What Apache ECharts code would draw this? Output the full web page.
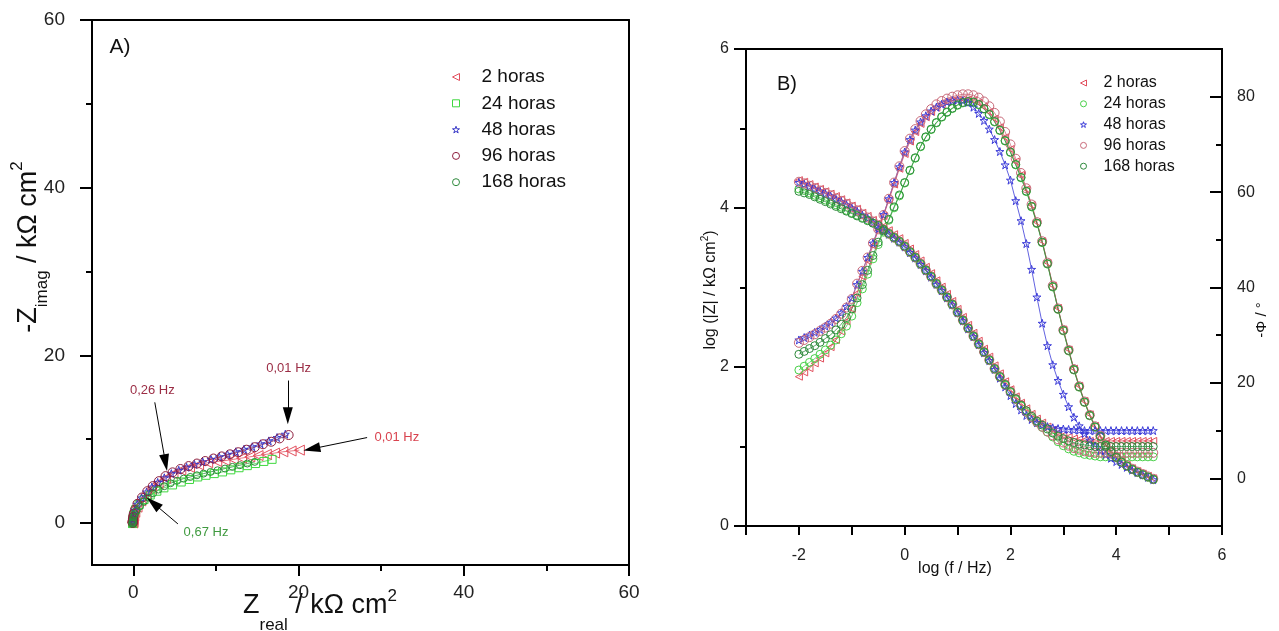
<!DOCTYPE html>
<html>
<head>
<meta charset="utf-8" />
<script src="https://cdn.jsdelivr.net/npm/echarts@6.0.0/dist/echarts.min.js"></script>
<style>
  html, body { margin: 0; padding: 0; background: #fff; }
  #chart { width: 1279px; height: 631px; }
</style>
</head>
<body>
<div id="chart"></div>
<script>
// series names
var names = ['2 horas', '24 horas', '48 horas', '96 horas', '168 horas'];

// ---- panel A : Nyquist (kOhm cm2) ----
var re2h = [20.1, 19.1, 18.1, 17.1, 16.1, 15.1, 14.1, 13.1, 12.1, 11.1, 10.1, 9.0, 7.9, 6.8, 5.75, 4.8, 3.9, 3.0, 2.2, 1.5, 0.9, 0.45, 0.18, 0.05, -0.02, -0.05, -0.06, -0.07, -0.07, -0.07];
var im2h = [8.7, 8.6, 8.5, 8.35, 8.2, 8.05, 7.9, 7.75, 7.6, 7.45, 7.35, 7.2, 6.95, 6.65, 6.3, 5.85, 5.35, 4.75, 4.1, 3.4, 2.65, 1.9, 1.3, 0.85, 0.55, 0.35, 0.2, 0.12, 0.06, 0.02];
var re24h = [16.8, 15.8, 14.8, 13.8, 12.8, 11.8, 10.8, 9.8, 8.8, 7.8, 6.8, 5.8, 4.75, 3.7, 2.85, 2.05, 1.3, 0.7, 0.28, 0.05, -0.05, -0.08, -0.09, -0.09, -0.09, -0.09];
var im24h = [7.6, 7.35, 7.1, 6.85, 6.6, 6.35, 6.1, 5.9, 5.7, 5.5, 5.2, 4.9, 4.55, 4.2, 3.8, 3.35, 2.8, 2.2, 1.6, 1.0, 0.55, 0.25, 0.1, 0.02, -0.03, -0.06];
var re48h = [18.4, 17.4, 16.4, 15.4, 14.4, 13.4, 12.4, 11.4, 10.4, 9.4, 8.4, 7.4, 6.45, 5.5, 4.6, 3.75, 2.95, 2.25, 1.6, 1.0, 0.48, 0.18, 0.04, -0.03, -0.05, -0.06, -0.07, -0.07, -0.07, -0.07];
var im48h = [10.6, 10.2, 9.8, 9.45, 9.1, 8.8, 8.5, 8.2, 7.9, 7.6, 7.3, 7.0, 6.65, 6.3, 5.9, 5.4, 4.85, 4.3, 3.7, 3.0, 2.25, 1.55, 1.05, 0.7, 0.46, 0.3, 0.18, 0.1, 0.05, 0.02];
var re96h = [18.8, 17.7, 16.7, 15.7, 14.7, 13.7, 12.7, 11.7, 10.7, 9.7, 8.7, 7.7, 6.7, 5.7, 4.75, 3.9, 3.1, 2.35, 1.7, 1.05, 0.5, 0.2, 0.05, -0.02, -0.05, -0.06, -0.07, -0.07, -0.07, -0.07];
var im96h = [10.5, 10.1, 9.7, 9.4, 9.05, 8.75, 8.45, 8.2, 7.95, 7.7, 7.4, 7.1, 6.8, 6.45, 6.05, 5.6, 5.0, 4.4, 3.8, 3.05, 2.3, 1.6, 1.1, 0.75, 0.5, 0.32, 0.2, 0.12, 0.06, 0.02];
var re168h = [14.7, 13.8, 12.9, 12.0, 11.1, 10.2, 9.35, 8.5, 7.7, 6.9, 6.1, 5.3, 4.5, 3.75, 3.05, 2.4, 1.8, 1.25, 0.8, 0.42, 0.15, 0.0, -0.06, -0.08, -0.09, -0.09, -0.09, -0.09];
var im168h = [7.3, 7.1, 6.9, 6.7, 6.5, 6.3, 6.1, 5.9, 5.7, 5.5, 5.3, 5.05, 4.75, 4.4, 4.0, 3.55, 3.05, 2.55, 2.0, 1.5, 1.05, 0.65, 0.35, 0.17, 0.06, 0.0, -0.03, -0.05];

// frequency annotations of panel A
var annText = ['0,26 Hz', '0,01 Hz', '0,01 Hz', '0,67 Hz'];
var annTextAt = [[2.3, 15.8], [18.8, 18.5], [31.9, 10.2], [8.8, -1.1]];
var annFrom = [[2.6, 14.4], [18.7, 17.0], [28.3, 10.2], [5.4, -0.1]];
var annTo = [[3.9, 7.2], [18.7, 12.8], [21.6, 8.85], [2.4, 2.4]];
var annColor = ['#9b2d45', '#9b2d45', '#d9434f', '#3f9a3f'];

// ---- panel B : Bode ----
var logF = [-2.0, -1.9, -1.8, -1.7, -1.6, -1.5, -1.4, -1.3, -1.2, -1.1,
  -1.0, -0.9, -0.8, -0.7, -0.6, -0.5, -0.4, -0.3, -0.2, -0.1,
  0.0, 0.1, 0.2, 0.3, 0.4, 0.5, 0.6, 0.7, 0.8, 0.9,
  1.0, 1.1, 1.2, 1.3, 1.4, 1.5, 1.6, 1.7, 1.8, 1.9,
  2.0, 2.1, 2.2, 2.3, 2.4, 2.5, 2.6, 2.7, 2.8, 2.9,
  3.0, 3.1, 3.2, 3.3, 3.4, 3.5, 3.6, 3.7, 3.8, 3.9,
  4.0, 4.1, 4.2, 4.3, 4.4, 4.5, 4.6, 4.7];

var modZ2h = [4.35, 4.33, 4.30, 4.27, 4.24, 4.21, 4.18, 4.15, 4.11, 4.07,
  4.03, 3.99, 3.94, 3.90, 3.85, 3.81, 3.77, 3.72, 3.67, 3.62,
  3.56, 3.49, 3.42, 3.34, 3.26, 3.18, 3.09, 3.01, 2.92, 2.83,
  2.73, 2.63, 2.53, 2.43, 2.33, 2.23, 2.13, 2.02, 1.92, 1.82,
  1.72, 1.63, 1.55, 1.48, 1.41, 1.35, 1.30, 1.25, 1.21, 1.17,
  1.14, 1.12, 1.10, 1.09, 1.08, 1.07, 1.07, 1.07, 1.07, 1.07,
  1.07, 1.07, 1.07, 1.07, 1.07, 1.07, 1.07, 1.07];
var modZ24h = [4.24, 4.22, 4.19, 4.16, 4.13, 4.10, 4.07, 4.04, 4.01, 3.97,
  3.94, 3.91, 3.88, 3.85, 3.81, 3.78, 3.73, 3.67, 3.62, 3.57,
  3.51, 3.44, 3.37, 3.29, 3.21, 3.13, 3.04, 2.96, 2.87, 2.78,
  2.68, 2.58, 2.48, 2.38, 2.28, 2.18, 2.08, 1.97, 1.87, 1.77,
  1.68, 1.59, 1.51, 1.43, 1.36, 1.30, 1.24, 1.18, 1.12, 1.06,
  1.01, 0.97, 0.94, 0.92, 0.90, 0.89, 0.88, 0.87, 0.87, 0.87,
  0.87, 0.87, 0.87, 0.87, 0.87, 0.87, 0.87, 0.87];
var modZ48h = [4.32, 4.30, 4.27, 4.24, 4.21, 4.18, 4.15, 4.11, 4.08, 4.04,
  4.00, 3.96, 3.91, 3.87, 3.82, 3.77, 3.72, 3.67, 3.62, 3.57,
  3.51, 3.44, 3.37, 3.29, 3.21, 3.13, 3.04, 2.96, 2.87, 2.78,
  2.68, 2.58, 2.48, 2.38, 2.28, 2.18, 2.08, 1.97, 1.86, 1.75,
  1.64, 1.54, 1.46, 1.39, 1.34, 1.30, 1.27, 1.25, 1.235, 1.225,
  1.22, 1.215, 1.21, 1.205, 1.20, 1.20, 1.20, 1.20, 1.20, 1.20,
  1.20, 1.20, 1.20, 1.20, 1.20, 1.20, 1.20, 1.20];
var modZ96h = [4.33, 4.31, 4.28, 4.25, 4.22, 4.19, 4.16, 4.12, 4.09, 4.05,
  4.01, 3.97, 3.92, 3.88, 3.83, 3.78, 3.73, 3.68, 3.63, 3.58,
  3.52, 3.45, 3.38, 3.30, 3.22, 3.14, 3.05, 2.97, 2.88, 2.79,
  2.69, 2.59, 2.49, 2.39, 2.29, 2.19, 2.09, 1.98, 1.88, 1.78,
  1.69, 1.60, 1.52, 1.44, 1.37, 1.31, 1.25, 1.19, 1.14, 1.09,
  1.05, 1.01, 0.98, 0.96, 0.94, 0.93, 0.92, 0.92, 0.92, 0.92,
  0.92, 0.92, 0.92, 0.92, 0.92, 0.92, 0.92, 0.92];
var modZ168h = [4.21, 4.19, 4.17, 4.14, 4.11, 4.08, 4.05, 4.02, 3.99, 3.96,
  3.93, 3.90, 3.87, 3.84, 3.81, 3.78, 3.73, 3.68, 3.63, 3.58,
  3.52, 3.45, 3.38, 3.30, 3.22, 3.14, 3.05, 2.97, 2.88, 2.79,
  2.69, 2.59, 2.49, 2.39, 2.29, 2.19, 2.09, 1.98, 1.88, 1.78,
  1.69, 1.60, 1.52, 1.45, 1.38, 1.32, 1.27, 1.22, 1.17, 1.13,
  1.10, 1.07, 1.05, 1.03, 1.02, 1.01, 1.00, 1.00, 1.00, 1.00,
  1.00, 1.00, 1.00, 1.00, 1.00, 1.00, 1.00, 1.00];

var phase2h = [21.3, 22.2, 23.1, 24.1, 25.1, 26.2, 27.5, 29.0, 30.8, 32.9,
  35.5, 38.8, 42.3, 45.6, 48.8, 52.0, 55.0, 58.3, 61.6, 64.9,
  68.0, 70.6, 72.6, 74.3, 75.7, 76.8, 77.7, 78.4, 78.9, 79.2,
  79.4, 79.5, 79.4, 79.2, 78.7, 77.9, 76.8, 75.4, 73.6, 71.5,
  69.0, 66.4, 63.6, 60.6, 57.3, 53.7, 49.7, 45.2, 40.4, 35.7,
  31.2, 27.0, 23.0, 19.4, 16.2, 13.4, 11.0, 9.0, 7.2, 5.8,
  4.6, 3.6, 2.8, 2.1, 1.5, 1.0, 0.5, 0.0];
var phase24h = [22.7, 23.5, 24.3, 25.1, 26.0, 26.9, 27.9, 29.0, 30.3, 31.9,
  34.0, 36.8, 39.7, 42.8, 46.0, 49.0, 51.6, 54.1, 56.7, 59.2,
  61.9, 64.5, 67.1, 69.5, 71.5, 73.1, 74.5, 75.7, 76.7, 77.5,
  78.2, 78.7, 78.9, 78.8, 78.3, 77.4, 76.2, 74.7, 72.9, 70.7,
  68.3, 65.7, 63.0, 60.1, 56.9, 53.4, 49.4, 44.9, 40.1, 35.4,
  30.9, 26.7, 22.7, 19.1, 15.9, 13.1, 10.7, 8.7, 6.9, 5.5,
  4.3, 3.3, 2.5, 1.8, 1.2, 0.7, 0.2, -0.3];
var phase48h = [29.0, 29.5, 30.0, 30.6, 31.2, 31.9, 32.7, 33.6, 34.7, 36.0,
  37.8, 40.6, 43.4, 46.3, 49.3, 52.3, 55.3, 58.6, 62.0, 65.3,
  68.4, 71.0, 73.0, 74.7, 76.0, 77.0, 77.8, 78.4, 78.9, 79.2,
  79.3, 79.2, 78.8, 77.8, 76.5, 75.0, 73.2, 71.0, 68.5, 65.7,
  62.5, 58.2, 54.0, 49.2, 43.8, 38.0, 32.5, 27.8, 23.8, 20.5,
  17.6, 15.0, 12.8, 11.0, 9.4, 8.0, 6.8, 5.8, 5.0, 4.2,
  3.5, 2.9, 2.3, 1.7, 1.2, 0.7, 0.2, -0.3];
var phase96h = [28.4, 29.0, 29.6, 30.2, 30.9, 31.6, 32.4, 33.4, 34.5, 35.8,
  37.6, 40.8, 43.5, 46.3, 49.3, 52.2, 55.2, 58.6, 62.0, 65.4,
  68.6, 71.2, 73.2, 74.9, 76.3, 77.4, 78.4, 79.1, 79.6, 80.0,
  80.3, 80.5, 80.5, 80.3, 79.8, 79.0, 78.0, 76.6, 74.8, 72.6,
  70.0, 67.0, 64.0, 60.8, 57.4, 53.7, 49.7, 45.2, 40.4, 35.6,
  31.1, 26.9, 22.9, 19.3, 16.1, 13.3, 10.9, 8.9, 7.1, 5.7,
  4.5, 3.5, 2.7, 2.0, 1.4, 0.9, 0.4, -0.1];
var phase168h = [26.0, 26.6, 27.2, 27.8, 28.5, 29.3, 30.1, 31.1, 32.3, 33.7,
  35.5, 37.8, 40.6, 43.6, 46.7, 49.5, 51.9, 54.3, 56.9, 59.4,
  62.0, 64.6, 67.2, 69.6, 71.6, 73.2, 74.6, 75.8, 76.8, 77.6,
  78.3, 78.8, 79.0, 78.9, 78.4, 77.5, 76.3, 74.8, 73.0, 70.8,
  68.4, 65.8, 63.1, 60.2, 57.0, 53.5, 49.5, 45.0, 40.2, 35.5,
  31.0, 26.8, 22.8, 19.2, 16.0, 13.2, 10.8, 8.8, 7.0, 5.6,
  4.4, 3.4, 2.6, 1.9, 1.3, 0.8, 0.3, -0.2];

// tick labels
var ticksA = [0, 20, 40, 60];
var minorA = [10, 30, 50];
var ticksBx = [-3, -2, -1, 0, 1, 2, 3, 4, 5, 6];
var labelsBx = [-2, 0, 2, 4, 6];
var ticksBz = [0, 2, 4, 6];
var minorBz = [1, 3, 5];
var ticksBp = [0, 20, 40, 60, 80];
var minorBp = [10, 30, 50, 70];

var FONT = 'Liberation Sans, Arial, sans-serif';
var triLeft = 'path://M0,5L10,0L10,10Z';
var star = 'path://M5,0L6.18,3.62L10,3.62L6.91,5.86L8.09,9.5L5,7.26L1.91,9.5L3.09,5.86L0,3.62L3.82,3.62Z';

var colA = ['#e2505e', '#3fd83f', '#3838c8', '#8e1e3e', '#2e8a3c'];
var colB = ['#e2505e', '#48d048', '#3a3ad8', '#c86878', '#2e8a3c'];
var symA = [triLeft, 'rect', star, 'circle', 'circle'];
var sizeA = [10, 8, 8, 9, 7];
var symB = [triLeft, 'circle', star, 'circle', 'circle'];
var sizeB = [7, 8, 8, 9, 8];

var nyqRe = [re2h, re24h, re48h, re96h, re168h];
var nyqIm = [im2h, im24h, im48h, im96h, im168h];
var modZ = [modZ2h, modZ24h, modZ48h, modZ96h, modZ168h];
var phase = [phase2h, phase24h, phase48h, phase96h, phase168h];

function mkSeries(name, data, sym, size, color, xi, yi) {
  return {
    name: name, type: 'line', xAxisIndex: xi, yAxisIndex: yi, data: data,
    symbol: sym, symbolSize: size, showSymbol: true, showAllSymbol: true,
    itemStyle: { color: 'rgba(255,255,255,0)', borderColor: color, borderWidth: 1 },
    lineStyle: { color: color, width: 0.8 },
    emphasis: { disabled: true }, silent: true, animation: false
  };
}

function lineAxis(grid, pos, min, max) {
  return {
    type: 'value', gridIndex: grid, position: pos, min: min, max: max,
    axisLine: { show: true, onZero: false, lineStyle: { color: '#000', width: 2 } },
    axisTick: { show: false }, axisLabel: { show: false }, splitLine: { show: false }
  };
}

function tickAxis(grid, pos, min, max, ticks, len, inside, labels, margin, fs) {
  return {
    type: 'value', gridIndex: grid, position: pos, min: min, max: max,
    axisLine: { show: true, onZero: false, lineStyle: { color: '#000', width: 2 } },
    axisTick: { show: true, inside: inside, length: len, customValues: ticks, lineStyle: { color: '#000', width: 2 } },
    axisLabel: labels ? { show: true, customValues: labels, margin: margin, fontSize: fs, fontFamily: FONT, color: '#222' } : { show: false },
    splitLine: { show: false }
  };
}

var series = [];
for (var i = 0; i < names.length; i++) {
  var pts = nyqRe[i].map(function (x, k) { return [x, nyqIm[i][k]]; });
  series.push(mkSeries(names[i], pts, symA[i], sizeA[i], colA[i], 0, 0));
}
for (var i = 0; i < names.length; i++) {
  var zp = logF.map(function (f, k) { return [f, modZ[i][k]]; });
  var pp = logF.map(function (f, k) { return [f, phase[i][k]]; });
  series.push(mkSeries(names[i], pp, symB[i], sizeB[i], colB[i], 3, 5));
  series.push(mkSeries(names[i], zp, symB[i], sizeB[i], colB[i], 3, 3));
}

// annotation arrows + labels in panel A
series.push({
  type: 'line', xAxisIndex: 0, yAxisIndex: 0, data: [], silent: true, animation: false,
  markLine: {
    silent: true, symbol: ['none', 'triangle'], symbolSize: [10, 17],
    label: { show: false },
    lineStyle: { color: '#000', width: 1, type: 'solid' },
    emphasis: { disabled: true },
    data: annFrom.map(function (p, k) { return [{ coord: p }, { coord: annTo[k] }]; })
  },
  markPoint: {
    silent: true, symbol: 'circle', symbolSize: 1,
    itemStyle: { color: 'rgba(0,0,0,0)' },
    data: annTextAt.map(function (p, k) {
      return { coord: p, value: annText[k],
        label: { show: true, position: 'inside', formatter: annText[k], color: annColor[k], fontSize: 13, fontFamily: FONT } };
    })
  }
});

function legendItems(syms, cols) {
  return names.map(function (n, k) {
    return { name: n, icon: syms[k], itemStyle: { color: 'rgba(255,255,255,0)', borderColor: cols[k], borderWidth: 1 } };
  });
}

function centred(extra) {
  var s = { fill: '#111', align: 'center', verticalAlign: 'middle', textAlign: 'center', textVerticalAlign: 'middle' };
  for (var k in extra) s[k] = extra[k];
  return s;
}

var chart = echarts.init(document.getElementById('chart'), null, { renderer: 'canvas' });
chart.setOption({
  animation: false,
  backgroundColor: '#fff',
  grid: [
    { left: 92, top: 20, width: 537, height: 545 },
    { left: 746, top: 49, width: 476, height: 477 }
  ],
  xAxis: [
    tickAxis(0, 'bottom', -5, 60, ticksA, 11, false, ticksA, 18, 19),
    tickAxis(0, 'bottom', -5, 60, minorA, 6, false, null),
    lineAxis(0, 'top', -5, 60),
    tickAxis(1, 'bottom', -3, 6, ticksBx, 9, false, labelsBx, 22, 16),
    lineAxis(1, 'top', -3, 6)
  ],
  yAxis: [
    tickAxis(0, 'left', -5, 60, ticksA, 12, false, ticksA, 27, 19),
    tickAxis(0, 'left', -5, 60, minorA, 6, false, null),
    lineAxis(0, 'right', -5, 60),
    tickAxis(1, 'left', 0, 6, ticksBz, 12, false, ticksBz, 17, 16),
    tickAxis(1, 'left', 0, 6, minorBz, 6, false, null),
    tickAxis(1, 'right', -10, 90, ticksBp, 12, true, ticksBp, 15, 16),
    tickAxis(1, 'right', -10, 90, minorBp, 6, true, null)
  ],
  legend: [
    {
      orient: 'vertical', left: 447, top: 62, itemWidth: 7, itemHeight: 7, itemGap: 6.3,
      selectedMode: false, data: legendItems(symA, colA),
      textStyle: { fontSize: 19, fontFamily: FONT, color: '#111', lineHeight: 20, padding: [0, 0, 0, 17] }
    },
    {
      orient: 'vertical', left: 1075, top: 70, itemWidth: 6, itemHeight: 6, itemGap: 4.8,
      selectedMode: false, data: legendItems(symB, colB),
      textStyle: { fontSize: 16, fontFamily: FONT, color: '#111', lineHeight: 16, padding: [0, 0, 0, 12] }
    }
  ],
  graphic: [
    { type: 'text', x: 120, y: 47, style: centred({ text: 'A)', font: '21px ' + FONT }) },
    { type: 'text', x: 787, y: 84, style: centred({ text: 'B)', font: '20px ' + FONT }) },
    {
      type: 'text', x: 320, y: 606,
      style: centred({
        text: '{m|Z}{sb|real}{m| / kΩ cm}{sp|2}',
        rich: {
          m: { fontSize: 27, fontFamily: FONT, lineHeight: 56, verticalAlign: 'middle', fill: '#111' },
          sb: { fontSize: 17, fontFamily: FONT, lineHeight: 16, verticalAlign: 'bottom', fill: '#111' },
          sp: { fontSize: 17, fontFamily: FONT, verticalAlign: 'middle', padding: [0, 0, 20, 0], fill: '#111' }
        }
      })
    },
    {
      type: 'text', x: 29, y: 247, rotation: Math.PI / 2,
      style: centred({
        text: '{m|-Z}{sb|imag}{m| / kΩ cm}{sp|2}',
        rich: {
          m: { fontSize: 27, fontFamily: FONT, lineHeight: 44, verticalAlign: 'middle', fill: '#111' },
          sb: { fontSize: 17, fontFamily: FONT, lineHeight: 16, verticalAlign: 'bottom', fill: '#111' },
          sp: { fontSize: 17, fontFamily: FONT, verticalAlign: 'middle', padding: [0, 0, 24, 0], fill: '#111' }
        }
      })
    },
    {
      type: 'text', x: 711, y: 290, rotation: Math.PI / 2,
      style: centred({
        text: '{m|log (|Z| / kΩ cm}{sp|2}{m|)}',
        rich: {
          m: { fontSize: 16, fontFamily: FONT, lineHeight: 24, verticalAlign: 'middle', fill: '#111' },
          sp: { fontSize: 10, fontFamily: FONT, verticalAlign: 'middle', padding: [0, 0, 12, 0], fill: '#111' }
        }
      })
    },
    { type: 'text', x: 955, y: 569, style: centred({ text: 'log (f / Hz)', font: '16px ' + FONT }) },
    { type: 'text', x: 1262, y: 320, rotation: Math.PI / 2, style: centred({ text: '-Φ / °', font: '15px ' + FONT }) }
  ],
  series: series
});
</script>
</body>
</html>
